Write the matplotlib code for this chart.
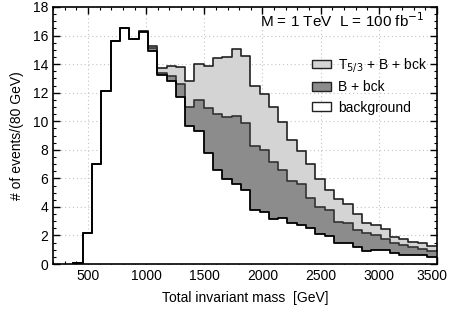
import numpy as np
import matplotlib
matplotlib.use("Agg")
import matplotlib.pyplot as plt
from matplotlib.patches import Patch
from matplotlib.ticker import MultipleLocator, FuncFormatter

plt.rcParams["font.family"] = ["Liberation Sans", "DejaVu Sans"]

# 80 GeV bins, left edges
bin_left = [375 + 80 * i for i in range(39)]

background = [0.1, 2.2, 7.0, 12.15, 15.65, 16.55, 15.75, 16.25, 14.9, 13.25,
              12.8, 11.67, 9.65, 9.3, 7.8, 6.56, 5.93, 5.58, 5.2, 3.77,
              3.65, 3.14, 3.19, 2.84, 2.74, 2.49, 2.09, 1.95, 1.44, 1.5,
              1.2, 0.9, 0.98, 0.95, 0.8, 0.65, 0.63, 0.63, 0.5]
b_bck = [0.1, 2.2, 7.0, 12.15, 15.65, 16.55, 15.75, 16.3, 15.1, 13.4,
         13.2, 12.6, 11.0, 11.5, 10.9, 10.5, 10.28, 10.4, 9.85, 8.3,
         8.0, 7.14, 6.6, 5.81, 5.63, 4.65, 4.0, 3.77, 2.95, 2.88,
         2.37, 2.14, 2.02, 1.72, 1.44, 1.33, 1.21, 1.02, 0.93]
t_b_bck = [0.1, 2.2, 7.0, 12.15, 15.65, 16.55, 15.75, 16.35, 15.25, 13.75,
           13.85, 13.8, 12.8, 14.0, 13.9, 14.42, 14.5, 15.05, 14.58, 12.5,
           11.9, 10.98, 9.93, 8.7, 7.95, 7.0, 5.98, 5.16, 4.55, 4.23,
           3.53, 2.88, 2.72, 2.42, 1.9, 1.72, 1.56, 1.44, 1.26]

edges = np.array(bin_left + [bin_left[-1] + 80])


def stepped(vals):
    v = np.array(vals)
    return np.append(v, v[-1])


light = "#d4d4d4"
dark = "#8c8c8c"

fig = plt.figure(figsize=(4.5, 3.17), dpi=100)
ax = fig.add_axes([0.118, 0.167, 0.853, 0.811])

ax.fill_between(edges, stepped(b_bck), stepped(t_b_bck), step="post", color=light, lw=0)
ax.fill_between(edges, stepped(background), stepped(b_bck), step="post", color=dark, lw=0)
ax.fill_between(edges, 0, stepped(background), step="post", color="white", lw=0)

ax.step(edges, stepped(t_b_bck), where="post", color="#222222", lw=1.2)
ax.step(edges, stepped(b_bck), where="post", color="#333333", lw=1.2)
ax.step(edges, stepped(background), where="post", color="black", lw=1.3)

ax.set_xlim(200, 3500)
ax.set_ylim(0, 18)
ax.xaxis.set_major_locator(MultipleLocator(500))
ax.xaxis.set_minor_locator(MultipleLocator(100))
ax.yaxis.set_major_locator(MultipleLocator(2))
ax.yaxis.set_minor_locator(MultipleLocator(0.5))
# the 3500 label is drawn by hand below so it stays inside the figure
ax.xaxis.set_major_formatter(FuncFormatter(lambda v, p: "" if v >= 3500 else f"{v:.0f}"))
ax.tick_params(which="both", direction="in", top=True, right=True, labelsize=10)
ax.tick_params(which="major", length=5, width=1)
ax.tick_params(which="minor", length=2.5, width=0.8)
ax.grid(True, which="major", color="#c4c4c4", linestyle=(0, (1, 2.5)), lw=0.8)
ax.set_axisbelow(True)
for s in ax.spines.values():
    s.set_linewidth(1.2)

ax.text(1.026, -0.019, "3500", transform=ax.transAxes, ha="right", va="top", fontsize=10)

ax.set_xlabel("Total invariant mass  [GeV]", fontsize=10, labelpad=6)
ax.set_ylabel("# of events/(80 GeV)", fontsize=10, labelpad=6)

ax.text(0.966, 0.922, "M = 1 TeV  L = 100 fb$^{-1}$", transform=ax.transAxes,
        ha="right", va="baseline", fontsize=11)

handles = [Patch(facecolor=light, edgecolor="#222222", lw=1),
           Patch(facecolor=dark, edgecolor="#222222", lw=1),
           Patch(facecolor="white", edgecolor="#222222", lw=1)]
labels = ["T$_{5/3}$ + B + bck", "B + bck", "background"]
ax.legend(handles, labels, loc="upper left", bbox_to_anchor=(0.66, 0.83),
          frameon=False, fontsize=10, handlelength=1.4, handleheight=0.6,
          handletextpad=0.5, labelspacing=0.45, borderaxespad=0)

fig.savefig("out.png", dpi=100)
